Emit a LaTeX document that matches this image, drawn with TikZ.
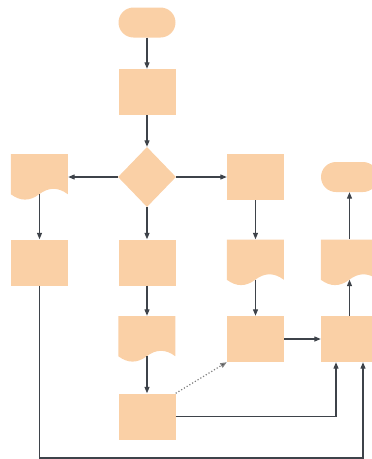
\documentclass[tikz,border=0pt]{standalone}
\usetikzlibrary{shapes.geometric,arrows.meta,calc}
\definecolor{peach}{RGB}{250,208,166}
\definecolor{linec}{RGB}{62,67,74}
\tikzset{
  box/.style={rectangle,fill=peach,draw=none,inner sep=0pt,minimum width=57pt,minimum height=46pt},
  term/.style={rectangle,fill=peach,draw=none,inner sep=0pt,minimum width=57pt,minimum height=30pt,rounded corners=15pt},
  dec/.style={diamond,fill=peach,draw=none,inner sep=0pt,minimum width=58pt,minimum height=60pt},
  docbox/.style={rectangle,draw=none,fill=none,inner sep=0pt,minimum width=57pt,minimum height=46pt},
  docfill/.style={fill=peach,draw=none},
  arr/.style={draw=linec,line width=1.2pt,-{Triangle[length=6.5pt,width=5pt]}},
  dots/.style={draw=gray,line width=1.2pt,dotted,-{Triangle[length=6.5pt,width=5pt,fill=linec]}}
}
\newcommand\mydocfill[1]{%
  \fill[docfill,shift={(#1.south west)}]
    (0pt,46pt) -- (57pt,46pt) -- (57pt,6pt)
    .. controls (47.5pt,13.2pt) and (38pt,13.2pt) .. (28.5pt,6pt)
    .. controls (19pt,-1.2pt) and (9.5pt,-1.2pt) .. (0pt,6pt) -- cycle;}
\begin{document}
\begin{tikzpicture}[x=1pt,y=-1pt]
\useasboundingbox (0,0) rectangle (372,459);
\clip (0,0) rectangle (372,459);
% nodes
\node[term] (T1) at (147,22.5) {};
\node[box] (P1) at (147,92) {};
\node[dec] (D) at (147,177) {};
\node[docbox] (DL) at (39.5,177) {};
\node[box] (P3a) at (255.5,177) {};
\node[term] (T2) at (349.5,177) {};
\node[box] (PL) at (39.5,262.5) {};
\node[box] (PM) at (147,262.5) {};
\node[docbox] (D3) at (255.5,262.5) {};
\node[docbox] (D4) at (349.5,262.5) {};
\node[docbox] (D2) at (147,339) {};
\node[box] (P3b) at (255.5,339) {};
\node[box] (P4) at (349.5,339) {};
\node[box] (PB) at (147,416.5) {};
\mydocfill{DL}
\mydocfill{D3}
\mydocfill{D4}
\mydocfill{D2}
\coordinate (bot) at (0,458);
% connectors
\draw[arr] (T1.south) -- (P1.north);
\draw[arr] (P1.south) -- (D.north);
\draw[arr] (D.west) -- (DL.east |- D.west);
\draw[arr] (D.east) -- (P3a.west);
\draw[arr] (D.south) -- (PM.north);
\draw[arr] ([yshift=6pt]DL.south) -- (PL.north);
\draw[arr] (P3a.south) -- (D3.north);
\draw[arr] (PM.south) -- (D2.north);
\draw[arr] ([yshift=6pt]D2.south) -- (PB.north);
\draw[arr] ([yshift=6pt]D3.south) -- (P3b.north);
\draw[arr] (P3b.east) -- (P4.west);
\draw[arr] (P4.north) -- ([yshift=6pt]D4.south);
\draw[arr] (D4.north) -- (T2.south);
\draw[dots] (PB.north east) -- (P3b.south west);
\draw[arr] (PB.east) -| ([xshift=-13.5pt]P4.south);
\draw[arr] (PL.south) -- (PL.south |- bot) -| ([xshift=13.5pt]P4.south);
\end{tikzpicture}
\end{document}
